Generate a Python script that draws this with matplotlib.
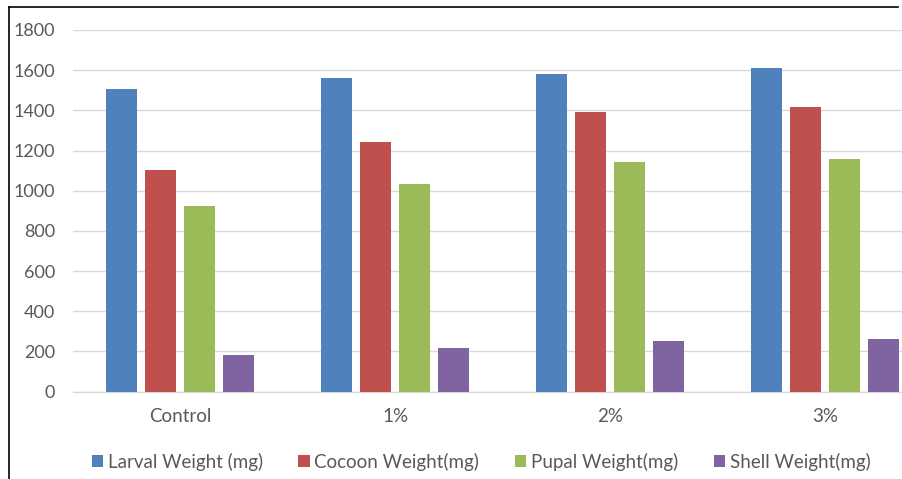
import numpy as np
import matplotlib
matplotlib.use("Agg")
import matplotlib.pyplot as plt
from matplotlib.lines import Line2D
from matplotlib.patches import Patch

plt.rcParams['font.family'] = ['Lato', 'DejaVu Sans']

# data
kategori = ['Control', '1%', '2%', '3%']
larval = [1505, 1563, 1580, 1609]
cocoon = [1103, 1244, 1394, 1415]
pupal = [924, 1032, 1143, 1158]
shell = [182, 215, 253, 260]

seri = ['Larval Weight (mg)', 'Cocoon Weight(mg)', 'Pupal Weight(mg)', 'Shell Weight(mg)']
warna = ['#4F81BD', '#C0504D', '#9BBB59', '#8064A2']
yticks = [0, 200, 400, 600, 800, 1000, 1200, 1400, 1600, 1800]

W, H = 903, 479
fig = plt.figure(figsize=(W / 100, H / 100), dpi=100)
# plot area: x from 73 px, y from 30 (1800) to 391.5 (0)
ax = fig.add_axes([73 / W, (H - 391.5) / H, (W - 73) / W, (391.5 - 30) / H])

x = np.arange(len(kategori))
step = 0.1814
lebar = 0.144
for i, (vals, c, lab) in enumerate(zip([larval, cocoon, pupal, shell], warna, seri)):
    ax.bar(x + (i - 1.5) * step, vals, width=lebar, color=c, label=lab, zorder=3)

# the right side of the last category is cropped in the reference
ax.set_xlim(-0.5, 3.5 - (932.5 - W) / 215)
ax.set_ylim(0, 1800)
ax.set_yticks(yticks)
ax.set_xticks(x)
ax.set_xticklabels(kategori)
ax.yaxis.grid(True, color='#D9D9D9', linewidth=1.0, zorder=0)
ax.set_axisbelow(True)
for s in ['top', 'right', 'left']:
    ax.spines[s].set_visible(False)
ax.spines['bottom'].set_color('#D9D9D9')
ax.spines['bottom'].set_linewidth(1.0)
ax.tick_params(axis='both', length=0, colors='#595959')
ax.tick_params(axis='x', pad=12, labelsize=13.5)
ax.tick_params(axis='y', pad=13, labelsize=13)
for lbl in ax.get_yticklabels():
    lbl.set_clip_on(False)

handles = [Patch(facecolor=c, edgecolor='none') for c in warna]
leg = fig.legend(handles, seri, loc='center', ncol=4, frameon=False,
                 bbox_to_anchor=(481 / W, (H - 462) / H), fontsize=13.5,
                 handlelength=0.6, handleheight=0.6, handletextpad=0.25,
                 columnspacing=1.9)
for t in leg.get_texts():
    t.set_color('#595959')

# outer frame (only left and top edges visible)
fig.add_artist(Line2D([8.5 / W, 898 / W], [(H - 7) / H, (H - 7) / H],
                      transform=fig.transFigure, color='black', linewidth=1.2))
fig.add_artist(Line2D([8.5 / W, 8.5 / W], [0, (H - 7) / H],
                      transform=fig.transFigure, color='black', linewidth=1.2))

fig.savefig('out.png', dpi=100)
